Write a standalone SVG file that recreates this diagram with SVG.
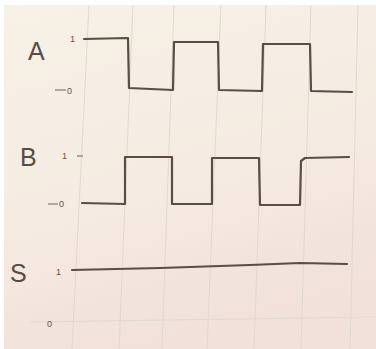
<svg xmlns="http://www.w3.org/2000/svg" width="376" height="349" viewBox="0 0 376 349">
<defs>
<linearGradient id="paper" x1="0" y1="0" x2="0.3" y2="1">
<stop offset="0" stop-color="#f7f1e6"/>
<stop offset="0.6" stop-color="#f5ebe2"/>
<stop offset="1" stop-color="#f1e1da"/>
</linearGradient>
<style>
.grid{stroke:#e2d8cf;stroke-width:1;fill:none}
.wave{stroke:#594d44;stroke-width:2.2;fill:none;stroke-linejoin:round;stroke-linecap:round}
.tick{stroke:#7a6e65;stroke-width:1.1;fill:none}
.big{font-family:"Liberation Sans",Arial,sans-serif;font-size:25px;fill:#574d45}
.small{font-family:"Liberation Sans",Arial,sans-serif;font-size:9px;fill:#5d534b}
</style>
</defs>
<rect width="376" height="349" fill="#ffffff"/>
<rect x="4" y="5" width="372" height="344" fill="url(#paper)"/>
<g id="grid">
<line class="grid" x1="89" y1="5" x2="72" y2="349"/>
<line class="grid" x1="133" y1="5" x2="119" y2="349"/>
<line class="grid" x1="174" y1="5" x2="162" y2="349"/>
<line class="grid" x1="221" y1="5" x2="207" y2="349"/>
<line class="grid" x1="266" y1="5" x2="254" y2="349"/>
<line class="grid" x1="311" y1="5" x2="301" y2="349"/>
<line class="grid" x1="358" y1="5" x2="350" y2="349"/>
<line class="grid" x1="30" y1="322" x2="376" y2="317"/>
</g>
<g id="labels">
<text class="big" x="28" y="60">A</text>
<text class="big" x="20" y="166">B</text>
<text class="big" x="10" y="282">S</text>
<text class="small" x="70" y="42">1</text>
<text class="small" x="67" y="94">0</text>
<text class="small" x="62" y="159">1</text>
<text class="small" x="59" y="207">0</text>
<text class="small" x="56" y="275">1</text>
<text class="small" x="47" y="327">0</text>
</g>
<g id="ticks">
<line class="tick" x1="55" y1="90" x2="66" y2="90"/>
<line class="tick" x1="77" y1="156" x2="83" y2="156"/>
<line class="tick" x1="48" y1="204" x2="58" y2="204"/>
</g>
<g id="waveA">
<polyline class="wave" points="84,39 128,38 129,88 173,90 174,42 218,42 219,90 262,91 263,44 310,44 311,91 352,92"/>
</g>
<g id="waveB">
<polyline class="wave" points="82,203 125,204 125,157 172,157 172,204 212,204 212,158 259,158 260,205 300,205 301,161 305,158 349,157"/>
</g>
<g id="waveS">
<polyline class="wave" points="72,270 160,268 250,265 300,263 347,264"/>
</g>
</svg>
